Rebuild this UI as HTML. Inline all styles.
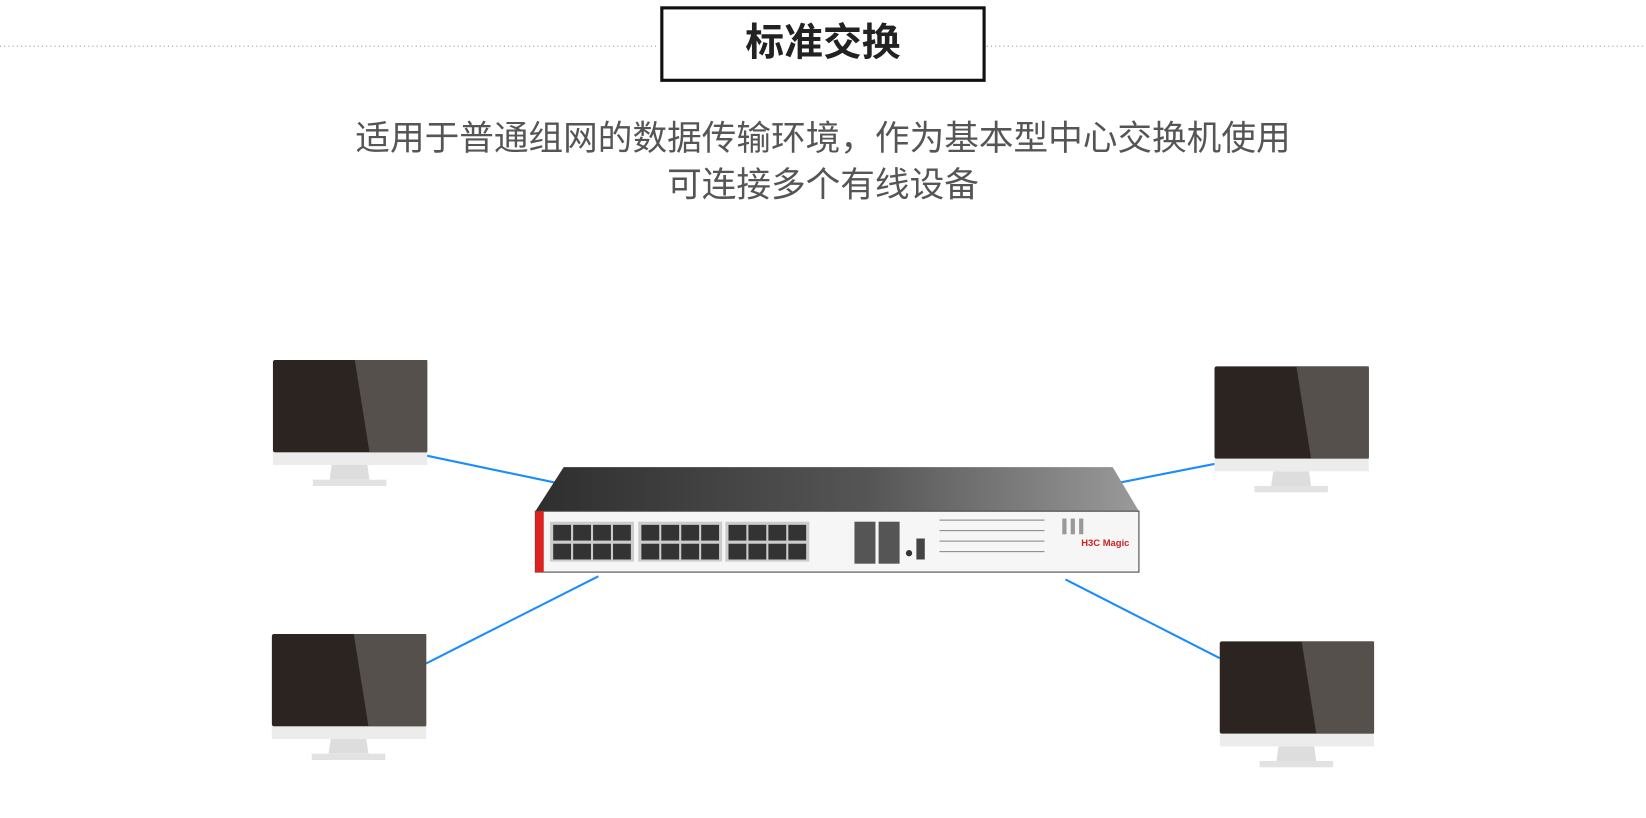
<!DOCTYPE html>
<html><head><meta charset="utf-8"><style>
body{margin:0;width:1646px;height:817px;background:#fff;position:relative;overflow:hidden;font-family:"Liberation Sans","Noto Sans CJK SC",sans-serif}
#w{position:absolute;left:0;top:0;width:1568px;height:779px;transform:scale(1.0497);transform-origin:0 0}
.t{position:absolute;left:629px;top:6px;width:304px;height:66px;border:3px solid #111;text-align:center;line-height:64px;font-size:37px;font-weight:bold;color:#222}
.s{position:absolute;left:0;width:1568px;text-align:center;font-size:33px;line-height:40px;color:#555}
</style></head><body><div id="w">
<svg width="1568" height="779" style="position:absolute;left:0;top:0">
<defs>
<g id="m">
<rect x="0" y="0" width="147" height="88" rx="2" fill="#2b2420"/>
<polygon points="78,0 147,0 147,88 92,88" fill="#55504b"/>
<rect x="0" y="88" width="147" height="12" fill="#ececec"/>
<polygon points="56,100 90,100 92,114 54,114" fill="#ddd"/>
<rect x="38" y="114" width="70" height="6" fill="#e2e2e2"/>
</g>
<linearGradient id="tg" x1="0" x2="1"><stop offset="0" stop-color="#2e2e2e"/><stop offset="0.55" stop-color="#555"/><stop offset="1" stop-color="#9a9a9a"/></linearGradient>
</defs>
<line x1="0" y1="44" x2="628" y2="44" stroke="#999" stroke-dasharray="1,3"/>
<line x1="940" y1="44" x2="1568" y2="44" stroke="#999" stroke-dasharray="1,3"/>
<g stroke="#1a8cff" stroke-width="2">
<line x1="406" y1="434" x2="535" y2="461"/>
<line x1="1060" y1="461" x2="1157" y2="442"/>
<line x1="406" y1="632" x2="570" y2="549"/>
<line x1="1015" y1="552" x2="1162" y2="627"/>
</g>
<use href="#m" x="260" y="343"/>
<use href="#m" x="1157" y="349"/>
<use href="#m" x="259" y="604"/>
<use href="#m" x="1162" y="611"/>
<polygon points="537,445 1060,445 1085,487 510,487" fill="url(#tg)"/>
<rect x="510" y="487" width="575" height="58" fill="#f6f6f6" stroke="#444" stroke-width="1"/>
<rect x="510" y="487" width="8" height="58" fill="#d22"/>
<rect x="524" y="497" width="80" height="38" fill="#ccc"/>
<rect x="608" y="497" width="80" height="38" fill="#ccc"/>
<rect x="691" y="497" width="80" height="38" fill="#ccc"/>
<g fill="#333">
<rect x="527" y="500" width="17" height="15"/><rect x="546" y="500" width="17" height="15"/><rect x="565" y="500" width="17" height="15"/><rect x="584" y="500" width="17" height="15"/>
<rect x="527" y="518" width="17" height="15"/><rect x="546" y="518" width="17" height="15"/><rect x="565" y="518" width="17" height="15"/><rect x="584" y="518" width="17" height="15"/>
<rect x="611" y="500" width="17" height="15"/><rect x="630" y="500" width="17" height="15"/><rect x="649" y="500" width="17" height="15"/><rect x="668" y="500" width="17" height="15"/>
<rect x="611" y="518" width="17" height="15"/><rect x="630" y="518" width="17" height="15"/><rect x="649" y="518" width="17" height="15"/><rect x="668" y="518" width="17" height="15"/>
<rect x="694" y="500" width="17" height="15"/><rect x="713" y="500" width="17" height="15"/><rect x="732" y="500" width="17" height="15"/><rect x="751" y="500" width="17" height="15"/>
<rect x="694" y="518" width="17" height="15"/><rect x="713" y="518" width="17" height="15"/><rect x="732" y="518" width="17" height="15"/><rect x="751" y="518" width="17" height="15"/>
<rect x="814" y="497" width="20" height="40" fill="#555"/><rect x="837" y="497" width="20" height="40" fill="#555"/>
<rect x="873" y="513" width="8" height="20" fill="#444"/>
<circle cx="866" cy="527" r="3"/>
<rect x="1012" y="494" width="4" height="15" fill="#999"/><rect x="1020" y="494" width="4" height="15" fill="#999"/><rect x="1028" y="494" width="4" height="15" fill="#999"/>
</g>
<g fill="#888"><rect x="895" y="495" width="100" height="1"/><rect x="895" y="505" width="100" height="1"/><rect x="895" y="515" width="100" height="1"/><rect x="895" y="525" width="100" height="1"/></g>
<text x="1030" y="520" font-size="9" fill="#c22" font-weight="bold" font-family="Liberation Sans">H3C Magic</text>
</svg>
<div class="t">标准交换</div>
<div class="s" style="top:112px">适用于普通组网的数据传输环境，作为基本型中心交换机使用</div>
<div class="s" style="top:156px">可连接多个有线设备</div>
</div></body></html>
